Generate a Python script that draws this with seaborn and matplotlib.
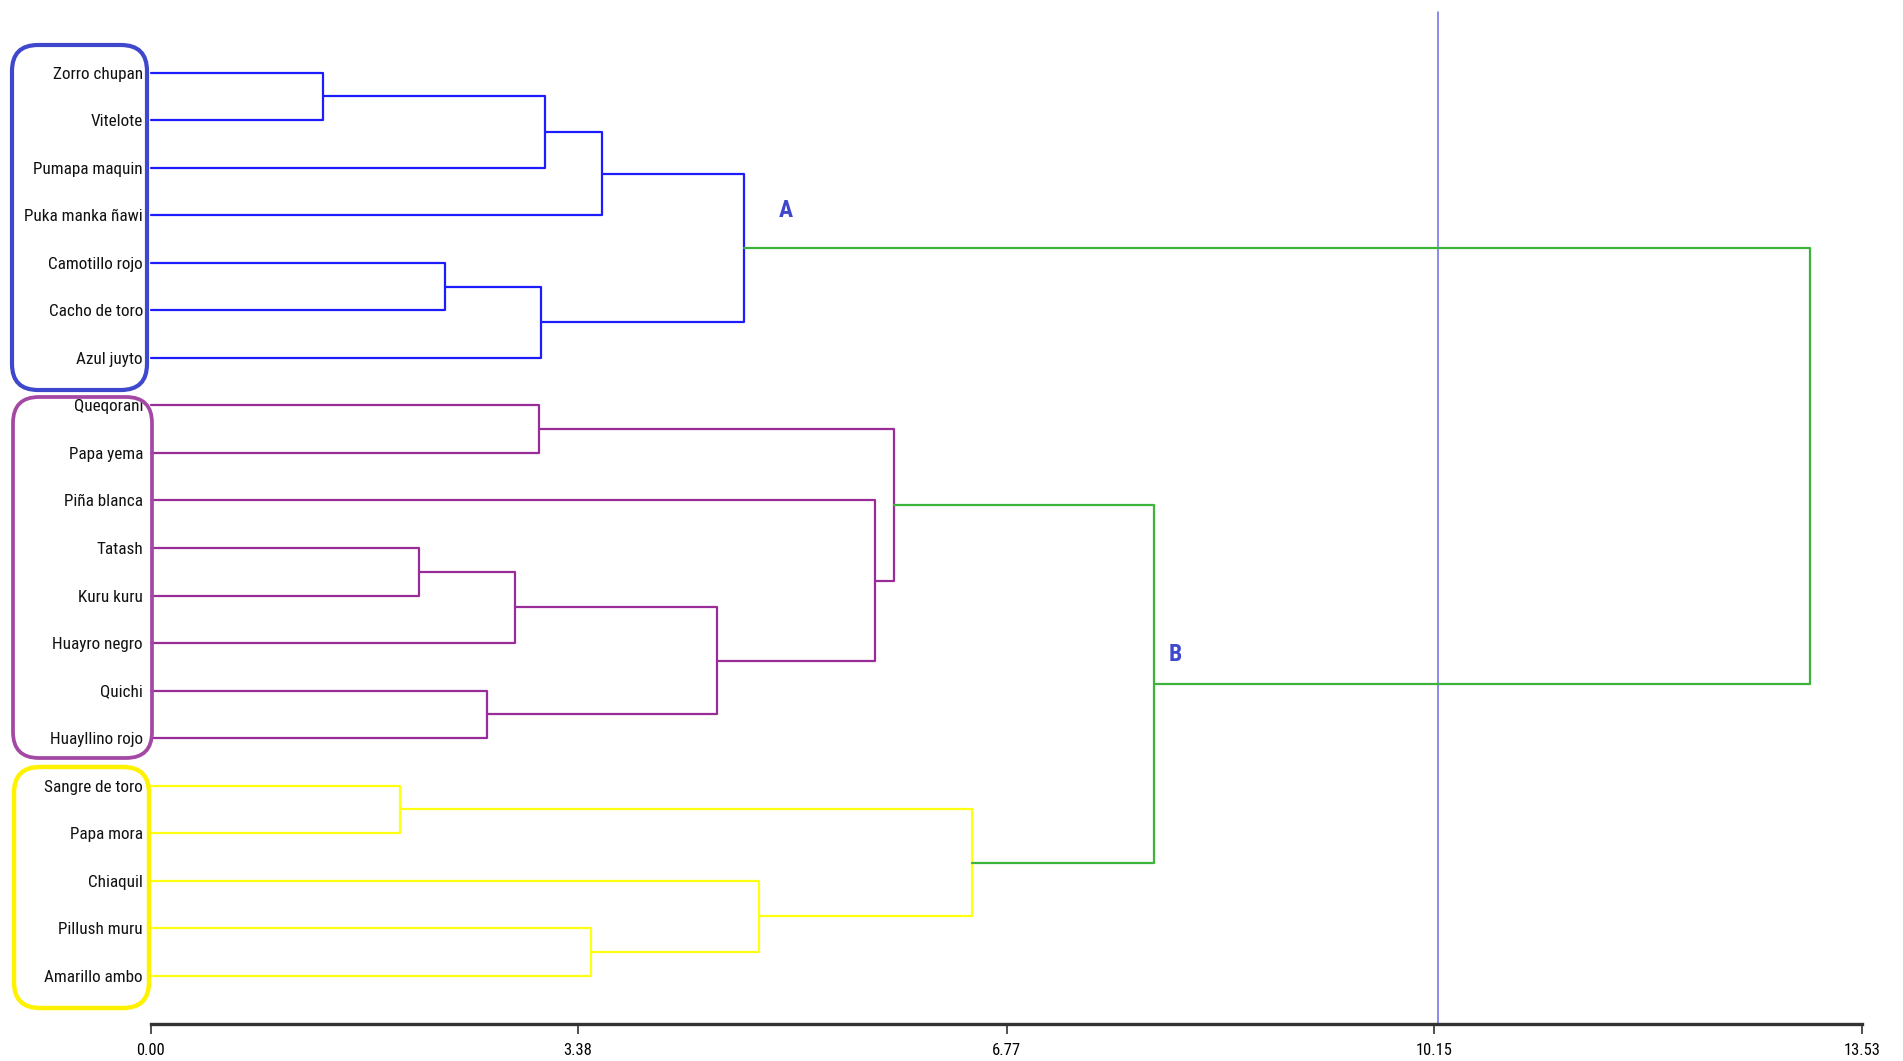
import os
import numpy as np
import pandas as pd
import matplotlib
matplotlib.use("Agg")
import matplotlib.pyplot as plt
from matplotlib import font_manager
from matplotlib.font_manager import FontProperties
from matplotlib.patches import FancyBboxPatch
from matplotlib.transforms import IdentityTransform
import seaborn as sns

# Potato cultivars, top to bottom in dendrogram order
leaves = [
    "Zorro chupan", "Vitelote", "Pumapa maquin", "Puka manka ñawi",
    "Camotillo rojo", "Cacho de toro", "Azul juyto",
    "Queqorani", "Papa yema", "Piña blanca", "Tatash", "Kuru kuru",
    "Huayro negro", "Quichi", "Huayllino rojo",
    "Sangre de toro", "Papa mora", "Chiaquil", "Pillush muru", "Amarillo ambo",
]

# Agglomeration steps: node name, joined members, linkage distance, branch colour group
node_names = ["a1", "a2", "a3", "a4", "a5", "A",
              "p1", "p2", "p3", "p4", "p5", "p6", "p7",
              "y1", "y2", "y3", "y4",
              "B", "root"]
node_left = ["Zorro chupan", "a1", "a2", "Camotillo rojo", "a4", "a3",
             "Queqorani", "Tatash", "p2", "Quichi", "p3", "Piña blanca", "p1",
             "Sangre de toro", "Pillush muru", "Chiaquil", "y1",
             "p7", "A"]
node_right = ["Vitelote", "Pumapa maquin", "Puka manka ñawi", "Cacho de toro", "Azul juyto", "a5",
              "Papa yema", "Kuru kuru", "Huayro negro", "Huayllino rojo", "p4", "p5", "p6",
              "Papa mora", "Amarillo ambo", "y2", "y3",
              "y4", "B"]
node_height = [1.36, 3.12, 3.57, 2.33, 3.09, 4.69,
               3.07, 2.12, 2.88, 2.66, 4.48, 5.73, 5.88,
               1.97, 3.48, 4.81, 6.49,
               7.93, 13.12]
node_group = ["blue"] * 6 + ["purple"] * 7 + ["yellow"] * 4 + ["green"] * 2

x_ticks = [0.00, 3.38, 6.77, 10.15, 13.53]
cut_height = 10.18
cluster_labels = ["A", "B"]
cluster_label_pos = [(5.02, 2.89), (8.10, 12.25)]

branch_palette = {"blue": "#1c1cff", "purple": "#9a2c9a",
                  "yellow": "#ffff10", "green": "#3cb43c"}


def narrow_font(bold=False):
    """Return the narrowest sans font file available, or None."""
    if bold:
        patterns = ["liberationsansnarrow-bold.", "arialnb", "robotocondensed-bold.",
                    "notosans-condensedbold.", "dejavusanscondensed-bold."]
    else:
        patterns = ["liberationsansnarrow-regular.", "arialn.", "robotocondensed-regular.",
                    "notosans-condensed.", "dejavusanscondensed."]
    files = [f.fname for f in font_manager.fontManager.ttflist]
    for pat in patterns:
        for path in files:
            if os.path.basename(path).lower().startswith(pat):
                return path
    return None


sns.set_theme(style="white")
plt.rcParams["font.family"] = ["Liberation Sans", "DejaVu Sans"]

regular_path = narrow_font(False)
bold_path = narrow_font(True)
fp_text = FontProperties(fname=regular_path) if regular_path else FontProperties(family="Liberation Sans")
fp_bold = (FontProperties(fname=bold_path) if bold_path
           else FontProperties(family="Liberation Sans", weight="bold"))

W, H = 1903, 1061
fig = plt.figure(figsize=(W / 100, H / 100), dpi=100)
fig.patch.set_facecolor("white")
renderer = fig.canvas.get_renderer()


def fitted_size(sample, target_px, fp, cap):
    t = fig.text(0, 0, sample, fontproperties=fp, fontsize=10)
    w = t.get_window_extent(renderer).width
    t.remove()
    return min(cap, 10 * target_px / w)


label_size = fitted_size("Puka manka ñawi", 118, fp_text, 15)
tick_size = fitted_size("10.15", 37, fp_text, 15)

x0_px, x1_px = 150.6, 1862.0
axis_px = 1024.0
leaf0_px, leaf_step = 72.7, 47.53
ax = fig.add_axes([x0_px / W, (H - axis_px) / H, (x1_px - x0_px) / W, axis_px / H])
ax.set_facecolor("white")

# Build the U-shaped links of the dendrogram
pos = {name: float(i) for i, name in enumerate(leaves)}
dist = {name: 0.0 for name in leaves}
rows = []
for k, (name, left, right, h, grp) in enumerate(
        zip(node_names, node_left, node_right, node_height, node_group)):
    pos[name] = (pos[left] + pos[right]) / 2
    dist[name] = h
    for d, p in [(dist[left], pos[left]), (h, pos[left]),
                 (h, pos[right]), (dist[right], pos[right])]:
        rows.append({"link": k, "group": grp, "dist": d, "pos": p})
links = pd.DataFrame(rows)

sns.lineplot(data=links, x="dist", y="pos", hue="group", units="link",
             estimator=None, sort=False, palette=branch_palette,
             linewidth=1.6, legend=False, ax=ax)
for line in ax.lines:
    line.set_clip_on(False)

y_bottom = (axis_px - leaf0_px) / leaf_step
y_top = -leaf0_px / leaf_step
ax.set_xlim(0, 13.53)
ax.set_ylim(y_bottom, y_top)

# Cut-off line
ax.plot([cut_height, cut_height], [(12 - leaf0_px) / leaf_step, y_bottom],
        color="#6b6be6", linewidth=1.1, zorder=1)

for spine in ["top", "left", "right"]:
    ax.spines[spine].set_visible(False)
ax.spines["bottom"].set_color("#333333")
ax.spines["bottom"].set_linewidth(2.4)

ax.set_xticks(x_ticks)
ax.set_xticklabels([f"{v:.2f}" for v in x_ticks], fontproperties=fp_text, fontsize=tick_size)
ax.tick_params(axis="x", direction="out", length=7, width=1.1, color="#222222",
               pad=7, labelcolor="black", bottom=True)
ax.set_yticks(range(len(leaves)))
ax.set_yticklabels(leaves, fontproperties=fp_text, fontsize=label_size)
ax.tick_params(axis="y", length=0, pad=5.5, labelcolor="#111111")
ax.set_xlabel("")
ax.set_ylabel("")
ax.grid(False)

for text, (lx, ly) in zip(cluster_labels, cluster_label_pos):
    ax.text(lx, ly, text, color="#3f48cc", fontproperties=fp_bold, fontsize=17,
            ha="center", va="center")

# Rounded frames around the three groups of cultivars (pixel coords, origin bottom-left)
frames = [
    ((12, H - 390), 135, 345, "#3f48cc", 3.0),
    ((13, H - 758), 139, 361, "#a349a4", 2.7),
    ((14, H - 1008), 135, 241, "#fff200", 3.2),
]
for (fx, fy), fw, fh, col, lw in frames:
    fig.add_artist(FancyBboxPatch((fx, fy), fw, fh,
                                  boxstyle="round,pad=0,rounding_size=26",
                                  transform=IdentityTransform(),
                                  facecolor="none", edgecolor=col,
                                  linewidth=lw, zorder=10))

fig.savefig("out.png", dpi=100, facecolor="white")
